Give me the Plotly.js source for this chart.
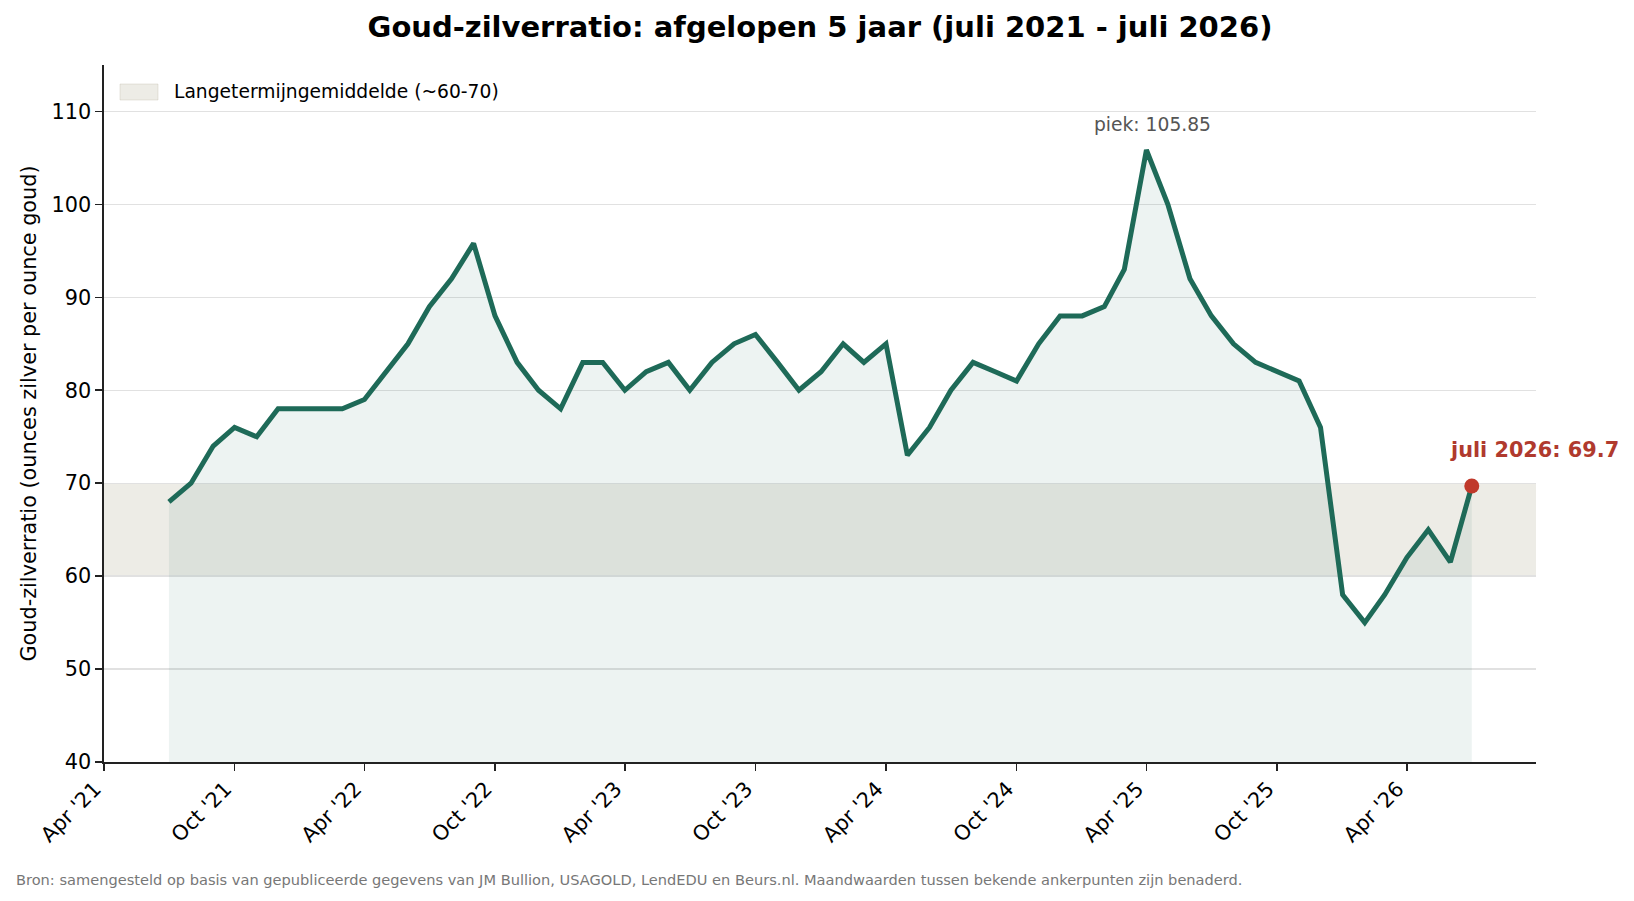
<!DOCTYPE html>
<html>
<head>
<meta charset="utf-8">
<script src="https://cdn.plot.ly/plotly-3.0.1.min.js"></script>
<style>html,body{margin:0;padding:0;background:#fff;}#chart{width:1634px;height:901px;}</style>
</head>
<body>
<div id="chart"></div>
<script>
// ---- data ----
const months = [
  '2021-07-01','2021-08-01','2021-09-01','2021-10-01','2021-11-01','2021-12-01',
  '2022-01-01','2022-02-01','2022-03-01','2022-04-01','2022-05-01','2022-06-01',
  '2022-07-01','2022-08-01','2022-09-01','2022-10-01','2022-11-01','2022-12-01',
  '2023-01-01','2023-02-01','2023-03-01','2023-04-01','2023-05-01','2023-06-01',
  '2023-07-01','2023-08-01','2023-09-01','2023-10-01','2023-11-01','2023-12-01',
  '2024-01-01','2024-02-01','2024-03-01','2024-04-01','2024-05-01','2024-06-01',
  '2024-07-01','2024-08-01','2024-09-01','2024-10-01','2024-11-01','2024-12-01',
  '2025-01-01','2025-02-01','2025-03-01','2025-04-01','2025-05-01','2025-06-01',
  '2025-07-01','2025-08-01','2025-09-01','2025-10-01','2025-11-01','2025-12-01',
  '2026-01-01','2026-02-01','2026-03-01','2026-04-01','2026-05-01','2026-06-01',
  '2026-07-01'
];
const ratio = [
  68, 70, 74, 76, 75, 78,
  78, 78, 78, 79, 82, 85,
  89, 92, 95.8, 88, 83, 80,
  78, 83, 83, 80, 82, 83,
  80, 83, 85, 86, 83, 80,
  82, 85, 83, 85, 73, 76,
  80, 83, 82, 81, 85, 88,
  88, 89, 93, 105.85, 100, 92,
  88, 85, 83, 82, 81, 76,
  58, 55, 58, 62, 65, 61.5,
  69.7
];
const bandLow = 60;
const bandHigh = 70;
const axisStart = '2021-04-01';
const axisEnd = '2026-09-29';
const yMin = 40;
const yMax = 115;
const bandLabel = 'Langetermijngemiddelde (~60-70)';
const lastLabel = 'juli 2026';

// ---- derived ----
let peakIdx = 0;
ratio.forEach((v, i) => { if (v > ratio[peakIdx]) peakIdx = i; });
const lastIdx = ratio.length - 1;

const FONT = 'DejaVu Sans, Verdana, sans-serif';
const lineColor = '#1e6a58';
const bandFill = 'rgba(190,185,165,0.28)';

const W = 1634, H = 901;
const M = { l: 104, r: 98, t: 65, b: 139 };
const PW = W - M.l - M.r, PH = H - M.t - M.b;
const px = v => (v - M.l) / PW;        // pixel x -> paper x
const py = v => 1 - (v - M.t) / PH;    // pixel y -> paper y

const traces = [
  { // area under curve
    x: months, y: ratio, type: 'scatter', mode: 'none',
    fill: 'tozeroy', fillcolor: 'rgba(30,106,88,0.08)',
    showlegend: false, hoverinfo: 'skip'
  },
  { // ratio line
    x: months, y: ratio, type: 'scatter', mode: 'lines',
    line: { color: lineColor, width: 5 },
    showlegend: false
  },
  { // last point
    x: [months[lastIdx]], y: [ratio[lastIdx]], type: 'scatter', mode: 'markers',
    marker: { color: '#c0392b', size: 15 },
    showlegend: false, cliponaxis: false
  }
];

const layout = {
  width: W, height: H,
  margin: M,
  paper_bgcolor: '#ffffff', plot_bgcolor: '#ffffff',
  font: { family: FONT, color: '#000', size: 20.8 },
  showlegend: false,
  title: {
    text: 'Goud-zilverratio: afgelopen 5 jaar (juli 2021 - juli 2026)',
    font: { family: FONT, size: 29, weight: 'bold', color: '#000' },
    x: 0.5, xref: 'paper', xanchor: 'center',
    y: 1 - 27 / H, yref: 'container', yanchor: 'middle'
  },
  xaxis: {
    type: 'date', range: [axisStart, axisEnd],
    tick0: axisStart, dtick: 'M6', tickformat: "%b '%y",
    tickangle: -45, ticks: 'outside', ticklen: 7, tickwidth: 1.6, tickcolor: '#222',
    ticklabelshift: -9, ticklabelstandoff: -2,
    showline: true, linecolor: '#222', linewidth: 1.6,
    showgrid: false, zeroline: false,
    tickfont: { family: FONT, size: 20.8, color: '#000' }
  },
  yaxis: {
    range: [yMin, yMax], tick0: 40, dtick: 10,
    ticks: 'outside', ticklen: 7, tickwidth: 1.6, tickcolor: '#222',
    showline: true, linecolor: '#222', linewidth: 1.6,
    showgrid: true, gridcolor: '#e1e1e1', gridwidth: 1.4, zeroline: false,
    tickfont: { family: FONT, size: 20.8, color: '#000' },
    title: { text: 'Goud-zilverratio (ounces zilver per ounce goud)',
             font: { family: FONT, size: 20.8, color: '#000' }, standoff: 9 }
  },
  shapes: [
    { // long-term average band
      type: 'rect', xref: 'paper', x0: 0, x1: 1, yref: 'y', y0: bandLow, y1: bandHigh,
      fillcolor: bandFill, line: { width: 0 }, layer: 'below'
    },
    { // legend patch
      type: 'rect', xref: 'paper', yref: 'paper',
      x0: px(120), x1: px(158), y0: py(100), y1: py(84),
      fillcolor: bandFill, line: { width: 1, color: 'rgba(190,185,165,0.35)' }
    }
  ],
  annotations: [
    { // legend text
      x: px(172), y: py(92), xref: 'paper', yref: 'paper',
      xanchor: 'left', yanchor: 'middle', showarrow: false,
      text: bandLabel,
      font: { family: FONT, size: 18.7, color: '#000' }
    },
    {
      x: months[peakIdx], y: ratio[peakIdx], xref: 'x', yref: 'y',
      text: 'piek: ' + ratio[peakIdx].toFixed(2), showarrow: false,
      xanchor: 'center', yanchor: 'middle', xshift: 6, yshift: 26,
      font: { family: FONT, size: 18.7, color: '#555555' }
    },
    {
      x: months[lastIdx], y: ratio[lastIdx], xref: 'x', yref: 'y',
      text: lastLabel + ': ' + ratio[lastIdx].toFixed(1), showarrow: false,
      xanchor: 'left', yanchor: 'middle', xshift: -24, yshift: 36,
      font: { family: FONT, size: 20.8, color: '#b03a2e', weight: 'bold' }
    },
    {
      x: px(14), y: py(879), xref: 'paper', yref: 'paper',
      xanchor: 'left', yanchor: 'middle', showarrow: false,
      text: 'Bron: samengesteld op basis van gepubliceerde gegevens van JM Bullion, USAGOLD, LendEDU en Beurs.nl. Maandwaarden tussen bekende ankerpunten zijn benaderd.',
      font: { family: FONT, size: 14.6, color: '#777777' }
    }
  ]
};

Plotly.newPlot('chart', traces, layout, { displayModeBar: false, staticPlot: true });
</script>
</body>
</html>
